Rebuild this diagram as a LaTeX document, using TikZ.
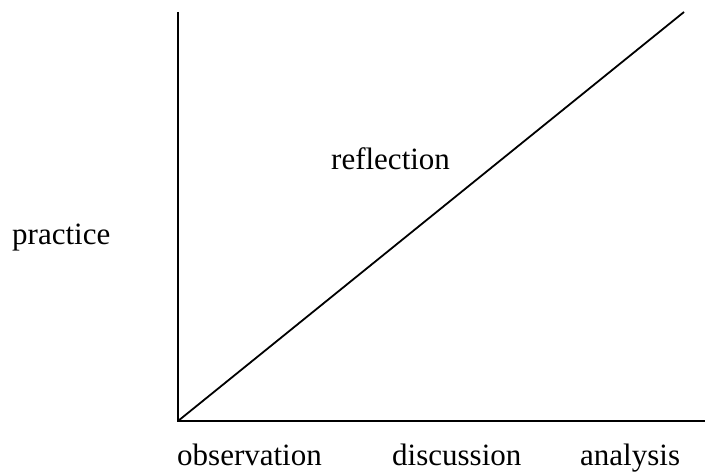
\documentclass[tikz,border=0pt]{standalone}
\usepackage{fontspec}
\setmainfont{Liberation Serif}
\begin{document}
\begin{tikzpicture}[x=1pt,y=-1pt,
  lbl/.style={inner sep=0pt, anchor=base west, font=\fontsize{31}{36}\selectfont},
  axisline/.style={line width=1.8pt, black}]
\useasboundingbox (0,0) rectangle (707,473);
\coordinate (o) at (178,421);
\coordinate (ytop) at (178,12);
\coordinate (xend) at (705,421);
\coordinate (dend) at (684,12);
\draw[axisline] (ytop) -- (o) -- (xend);
\draw[axisline] (o) -- (dend);
\node[lbl] (practice) at (12,245) {practice};
\node[lbl] (reflection) at (331,170) {reflection};
\node[lbl] (observation) at (177,465) {observation};
\node[lbl] (discussion) at (392,465) {discussion};
\node[lbl] (analysis) at (580,465) {analysis};
\end{tikzpicture}
\end{document}
